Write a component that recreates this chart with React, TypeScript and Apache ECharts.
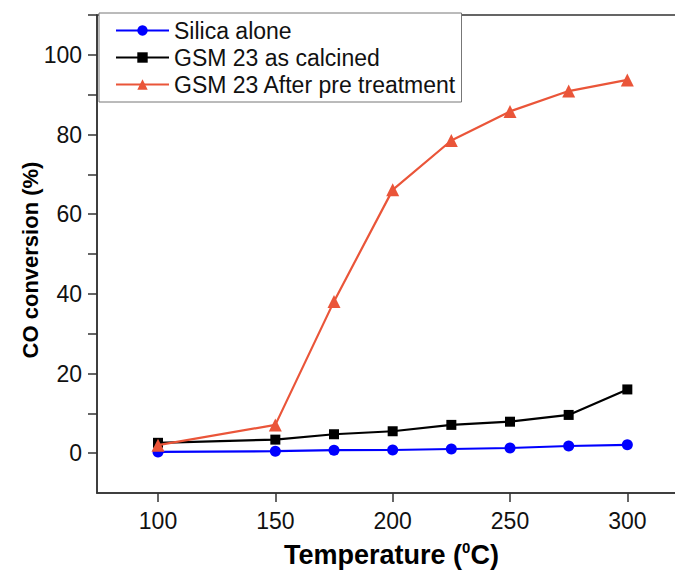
import React, { useEffect, useRef } from "react";
import * as echarts from "echarts";

const temperatures = [100, 150, 175, 200, 225, 250, 275, 300];
const silicaAlone = [0.3, 0.5, 0.75, 0.8, 1.05, 1.3, 1.8, 2.1];
const gsmCalcined = [2.6, 3.4, 4.75, 5.5, 7.1, 7.9, 9.6, 16.0];
const gsmPretreated = [2.0, 7.1, 38.1, 66.1, 78.5, 85.8, 90.9, 93.7];

const xTickValues = [100, 150, 200, 250, 300];
const yTickValues = [0, 10, 20, 30, 40, 50, 60, 70, 80, 90, 100, 110];
const yLabelValues = [0, 20, 40, 60, 80, 100];

const FONT = "'Liberation Sans', Arial, sans-serif";

export default function App() {
  const ref = useRef<HTMLDivElement>(null);
  useEffect(() => {
    if (!ref.current) return;
    const chart = echarts.init(ref.current, undefined, { renderer: "svg" });
    const pair = (ys: number[]) => temperatures.map((t, i) => [t, ys[i]]);
    chart.setOption({
      animation: false,
      backgroundColor: "#ffffff",
      textStyle: { fontFamily: FONT },
      grid: {
        left: 97,
        top: 15,
        right: -11,
        bottom: 79,
        outerBoundsMode: "none",
        containLabel: false,
        show: true,
        borderColor: "#333",
        borderWidth: 1.5,
        backgroundColor: "transparent",
      },
      legend: {
        orient: "vertical",
        left: 99,
        top: 13,
        itemWidth: 53,
        itemHeight: 13,
        itemGap: 4,
        padding: [6, 5, 6, 16],
        backgroundColor: "#ffffff",
        borderColor: "#777",
        borderWidth: 1,
        borderRadius: 0,
        textStyle: { fontSize: 23, color: "#111", fontFamily: FONT },
        data: ["Silica alone", "GSM 23 as calcined", "GSM 23 After pre treatment"],
      },
      graphic: [
        {
          type: "text",
          x: 30,
          y: 260,
          rotation: Math.PI / 2,
          style: {
            text: "CO conversion (%)",
            font: `bold 22px ${FONT}`,
            fill: "#000",
            align: "center",
            verticalAlign: "middle",
          },
        },
      ],
      xAxis: {
        type: "value",
        min: 74,
        max: 325,
        name: "{a|Temperature (}{s|0}{a|C)}",
        nameLocation: "middle",
        nameGap: 47,
        nameTextStyle: {
          rich: {
            a: { fontSize: 27, fontWeight: "bold", color: "#000", fontFamily: FONT, lineHeight: 30 },
            s: { fontSize: 15, fontWeight: "bold", color: "#000", fontFamily: FONT, verticalAlign: "top", lineHeight: 15 },
          },
        },
        axisLine: { show: true, onZero: false, lineStyle: { color: "#333", width: 1.5 } },
        axisTick: { show: true, length: 9, customValues: xTickValues, lineStyle: { color: "#333", width: 1.5 } },
        axisLabel: { customValues: xTickValues, fontSize: 23, color: "#111", margin: 16, fontFamily: FONT },
        splitLine: { show: false },
      },
      yAxis: {
        type: "value",
        min: -10,
        max: 110,
        axisLine: { show: true, onZero: false, lineStyle: { color: "#333", width: 1.5 } },
        axisTick: { show: true, length: 9, customValues: yTickValues, lineStyle: { color: "#333", width: 1.5 } },
        axisLabel: { customValues: yLabelValues, fontSize: 23, color: "#111", margin: 15, fontFamily: FONT },
        splitLine: { show: false },
      },
      series: [
        {
          name: "Silica alone",
          type: "line",
          data: pair(silicaAlone),
          symbol: "circle",
          symbolSize: 11,
          color: "#0000ff",
          lineStyle: { color: "#0000ff", width: 2.2 },
          itemStyle: { color: "#0000ff" },
          z: 3,
        },
        {
          name: "GSM 23 as calcined",
          type: "line",
          data: pair(gsmCalcined),
          symbol: "rect",
          symbolSize: 10,
          color: "#000000",
          lineStyle: { color: "#000000", width: 2.2 },
          itemStyle: { color: "#000000" },
          z: 2,
        },
        {
          name: "GSM 23 After pre treatment",
          type: "line",
          data: pair(gsmPretreated),
          symbol: "triangle",
          symbolSize: 13,
          color: "#ea5539",
          lineStyle: { color: "#ea5539", width: 2.2 },
          itemStyle: { color: "#ea5539" },
          z: 4,
        },
      ],
    });
    return () => chart.dispose();
  }, []);
  return (
    <div
      ref={ref}
      style={{ position: "fixed", left: 0, top: 0, width: 675, height: 572 }}
    />
  );
}
